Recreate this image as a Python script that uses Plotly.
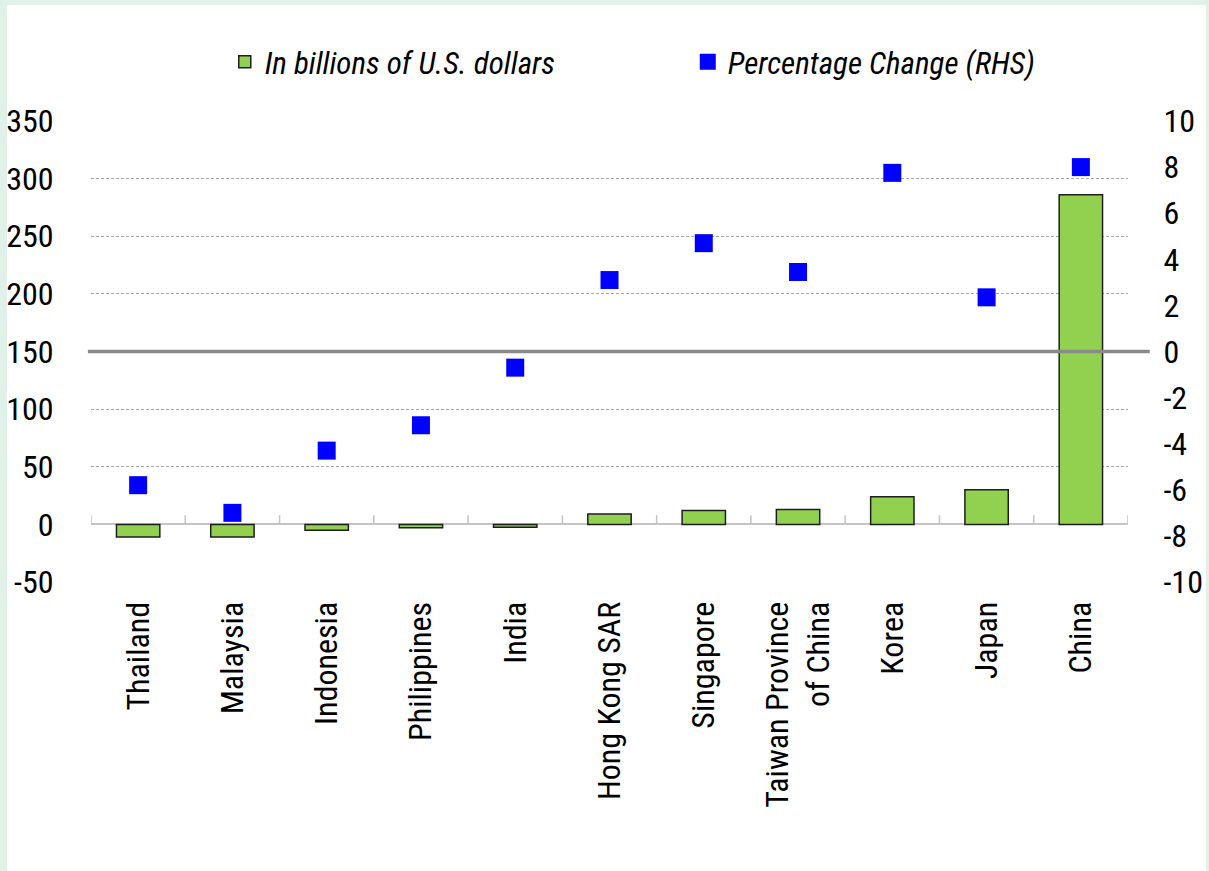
import plotly.graph_objects as go

categories = ["Thailand", "Malaysia", "Indonesia", "Philippines", "India", "Hong Kong SAR",
              "Singapore", "Taiwan Province<br>of China", "Korea", "Japan", "China"]
billions_usd = [-11, -11, -5, -3, -2.5, 9, 12, 13, 24, 30, 286]
pct_change = [-5.8, -7.0, -4.3, -3.2, -0.7, 3.1, 4.7, 3.45, 7.75, 2.35, 8.0]

left_ticks = [-50, 0, 50, 100, 150, 200, 250, 300, 350]
left_labels = ["-50", "0", "50", "100", "150", "200", "250", "300", "350"]
right_ticks = [-10, -8, -6, -4, -2, 0, 2, 4, 6, 8, 10]
right_labels = ["-10", "-8", "-6", "-4", "-2", "0", "2", "4", "6", "8", "10"]

FONT = "Liberation Sans Narrow, Arial Narrow, Roboto Condensed, DejaVu Sans Condensed, sans-serif"

fig = go.Figure()
fig.add_trace(go.Bar(
    x=categories, y=billions_usd, name="In billions of U.S. dollars",
    marker=dict(color="#92d050", line=dict(color="#1e1e1e", width=1.5)),
    width=0.46, yaxis="y",
))
fig.add_trace(go.Scatter(
    x=categories, y=pct_change, name="Percentage Change (RHS)", mode="markers",
    marker=dict(symbol="square", size=18, color="#0000ff", line=dict(width=0)),
    yaxis="y2",
))

shapes = []
# white inner panel over mint frame
shapes.append(dict(type="rect", xref="paper", yref="paper", x0=-0.081, x1=1.0752,
                   y0=-0.63, y1=1.2516, fillcolor="white", line=dict(width=0), layer="below"))
# category boundary ticks along the zero baseline
for i in range(len(categories) + 1):
    shapes.append(dict(type="line", xref="x", yref="y", x0=i - 0.5, x1=i - 0.5, y0=0, y1=8,
                       line=dict(color="#c4c4c4", width=1.5), layer="above"))
# thick zero line of the right axis
shapes.append(dict(type="line", xref="paper", yref="y2", x0=-0.003, x1=1.021, y0=0, y1=0,
                   line=dict(color="#8a8a8a", width=3.5), layer="above"))

fig.update_layout(
    width=1209, height=871,
    margin=dict(l=91, r=81, t=121, b=289, autoexpand=False),
    paper_bgcolor="#e0f1e9", plot_bgcolor="white",
    font=dict(family=FONT, size=32, color="black"),
    showlegend=True,
    legend=dict(orientation="h", x=0.129, xanchor="left", y=1.128, yanchor="middle",
                font=dict(family=FONT, size=31, style="italic", color="black"),
                entrywidth=418, entrywidthmode="pixels", bgcolor="rgba(0,0,0,0)",
                itemsizing="trace"),
    bargap=0.54,
    xaxis=dict(type="category", tickangle=-90, showgrid=False, showline=False,
               ticks="outside", ticklen=6, tickcolor="rgba(0,0,0,0)", automargin=False,
               tickfont=dict(family=FONT, size=32), range=[-0.5, 10.5]),
    yaxis=dict(range=[-50, 350], tickvals=left_ticks, ticktext=left_labels, showgrid=True,
               gridcolor="#a6a6a6", gridwidth=1, griddash="3px,2px", zeroline=True,
               zerolinecolor="#c4c4c4", zerolinewidth=2, showline=False, ticks="outside",
               ticklen=30, tickcolor="rgba(0,0,0,0)", automargin=False,
               tickfont=dict(family=FONT, size=32)),
    yaxis2=dict(range=[-10, 10], tickvals=right_ticks, ticktext=right_labels, overlaying="y",
                side="right", showgrid=False, zeroline=False, showline=False, ticks="outside",
                ticklen=28, tickcolor="rgba(0,0,0,0)", automargin=False,
                tickfont=dict(family=FONT, size=32)),
    shapes=shapes,
)

fig.write_html("out.html", config={"displayModeBar": False},
               post_script="document.body.style.margin='0';")
